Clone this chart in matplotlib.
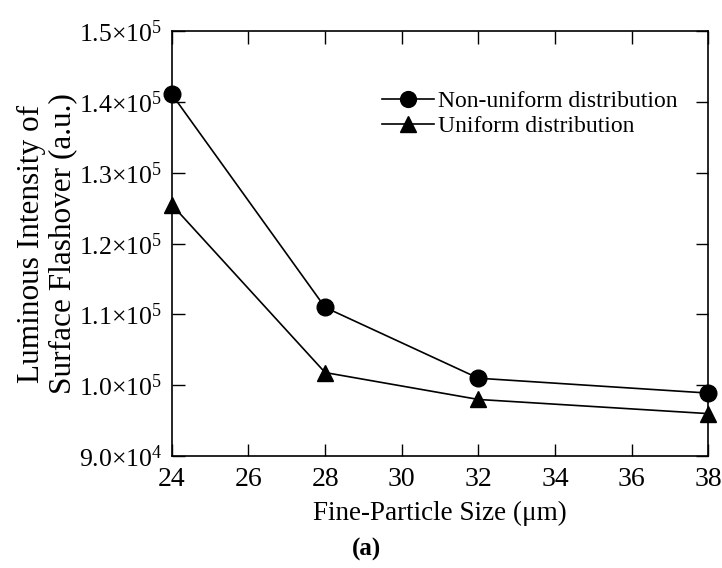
import numpy as np
import matplotlib
matplotlib.use("Agg")
import matplotlib.pyplot as plt

plt.rcParams['font.family'] = ['Liberation Serif', 'DejaVu Serif']
plt.rcParams['mathtext.fontset'] = 'custom'
plt.rcParams['mathtext.rm'] = 'Liberation Serif'
plt.rcParams['mathtext.it'] = 'Liberation Serif'

sizes = [24, 28, 32, 38]
non_uniform = [1.411e5, 1.110e5, 1.010e5, 0.989e5]
uniform = [1.255e5, 1.018e5, 0.980e5, 0.960e5]

xticks = [24, 26, 28, 30, 32, 34, 36, 38]
yticks = [0.9e5, 1.0e5, 1.1e5, 1.2e5, 1.3e5, 1.4e5, 1.5e5]
ytick_labels = ["9.0×10$^4$", "1.0×10$^5$", "1.1×10$^5$", "1.2×10$^5$",
                "1.3×10$^5$", "1.4×10$^5$", "1.5×10$^5$"]

fig = plt.figure(figsize=(7.22, 5.68), dpi=100)
ax = fig.add_axes([0.238, 0.197, 0.743, 0.748])

ax.plot(sizes, non_uniform, color='black', lw=1.2, marker='o', ms=12,
        label='Non-uniform distribution', clip_on=False)
ax.plot(sizes, uniform, color='black', lw=1.2, marker='^', ms=12,
        label='Uniform distribution', clip_on=False)

ax.set_xlim(24, 38)
ax.set_ylim(0.9e5, 1.5e5)
ax.set_xticks(xticks)
ax.set_yticks(yticks)
ax.set_yticklabels(ytick_labels)
ax.tick_params(direction='in', top=True, right=True, length=9, width=1.0)
ax.tick_params(axis='x', labelsize=20, pad=8)
ax.tick_params(axis='y', labelsize=18.5, pad=7)
for s in ax.spines.values():
    s.set_linewidth(1.2)

ax.set_xlabel('Fine-Particle Size (μm)', fontsize=19.5, labelpad=6)
ax.set_ylabel('Luminous Intensity of\nSurface Flashover (a.u.)', fontsize=22.5,
              linespacing=1.1)
ax.yaxis.set_label_coords(-0.176, 0.5)

ax.legend(loc='upper left', bbox_to_anchor=(0.361, 0.9), frameon=False,
          fontsize=17, handlelength=2.2, handletextpad=0.17, labelspacing=0.15,
          borderpad=0.2, markerscale=0.95)

fig.text(0.508, 0.022, '(a)', fontsize=18, fontweight='bold', ha='center')

fig.savefig('out.png', dpi=100)
